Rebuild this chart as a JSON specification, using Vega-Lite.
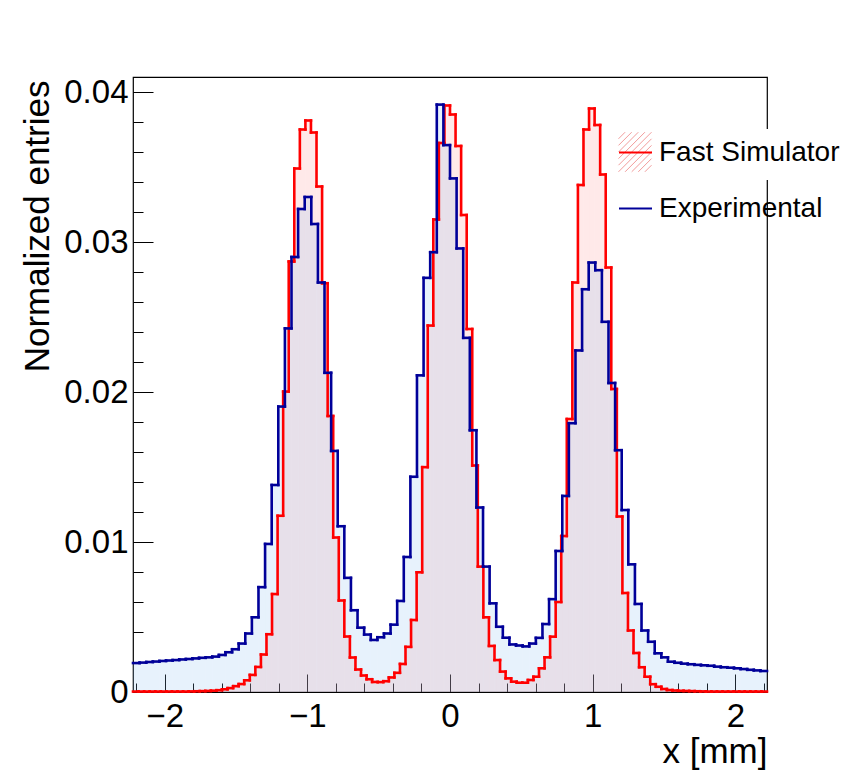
{
  "$schema": "https://vega.github.io/schema/vega-lite/v6.json",
  "width": 634,
  "height": 615,
  "autosize": {"type": "none"},
  "padding": {"left": 133, "top": 77, "right": 86, "bottom": 79},
  "background": "white",
  "datasets": {
    "sim": [
      {"x0": -2.222, "x1": -2.183, "v": 0.00003},
      {"x0": -2.183, "x1": -2.144, "v": 0.00003},
      {"x0": -2.144, "x1": -2.1051, "v": 0.00003},
      {"x0": -2.1051, "x1": -2.0661, "v": 0.00003},
      {"x0": -2.0661, "x1": -2.0271, "v": 0.00003},
      {"x0": -2.0271, "x1": -1.9881, "v": 0.00003},
      {"x0": -1.9881, "x1": -1.9491, "v": 0.00003},
      {"x0": -1.9491, "x1": -1.9101, "v": 0.00003},
      {"x0": -1.9101, "x1": -1.8712, "v": 0.00003},
      {"x0": -1.8712, "x1": -1.8322, "v": 0.00003},
      {"x0": -1.8322, "x1": -1.7932, "v": 0.00004},
      {"x0": -1.7932, "x1": -1.7542, "v": 0.00005},
      {"x0": -1.7542, "x1": -1.7152, "v": 0.00006},
      {"x0": -1.7152, "x1": -1.6763, "v": 0.00007},
      {"x0": -1.6763, "x1": -1.6373, "v": 0.00009},
      {"x0": -1.6373, "x1": -1.5983, "v": 0.00012},
      {"x0": -1.5983, "x1": -1.5593, "v": 0.00018},
      {"x0": -1.5593, "x1": -1.5203, "v": 0.00026},
      {"x0": -1.5203, "x1": -1.4813, "v": 0.00039},
      {"x0": -1.4813, "x1": -1.4424, "v": 0.00053},
      {"x0": -1.4424, "x1": -1.4034, "v": 0.00078},
      {"x0": -1.4034, "x1": -1.3644, "v": 0.00114},
      {"x0": -1.3644, "x1": -1.3254, "v": 0.00167},
      {"x0": -1.3254, "x1": -1.2864, "v": 0.0025},
      {"x0": -1.2864, "x1": -1.2475, "v": 0.00385},
      {"x0": -1.2475, "x1": -1.2085, "v": 0.00653},
      {"x0": -1.2085, "x1": -1.1695, "v": 0.01175},
      {"x0": -1.1695, "x1": -1.1305, "v": 0.02003},
      {"x0": -1.1305, "x1": -1.0915, "v": 0.0287},
      {"x0": -1.0915, "x1": -1.0525, "v": 0.0349},
      {"x0": -1.0525, "x1": -1.0136, "v": 0.0375},
      {"x0": -1.0136, "x1": -0.9746, "v": 0.0381},
      {"x0": -0.9746, "x1": -0.9356, "v": 0.0373},
      {"x0": -0.9356, "x1": -0.8966, "v": 0.0337},
      {"x0": -0.8966, "x1": -0.8576, "v": 0.02725},
      {"x0": -0.8576, "x1": -0.8186, "v": 0.0184},
      {"x0": -0.8186, "x1": -0.7797, "v": 0.0103},
      {"x0": -0.7797, "x1": -0.7407, "v": 0.0061},
      {"x0": -0.7407, "x1": -0.7017, "v": 0.0037},
      {"x0": -0.7017, "x1": -0.6627, "v": 0.0023},
      {"x0": -0.6627, "x1": -0.6237, "v": 0.0015},
      {"x0": -0.6237, "x1": -0.5848, "v": 0.0011},
      {"x0": -0.5848, "x1": -0.5458, "v": 0.00085},
      {"x0": -0.5458, "x1": -0.5068, "v": 0.00067},
      {"x0": -0.5068, "x1": -0.4678, "v": 0.00066},
      {"x0": -0.4678, "x1": -0.4288, "v": 0.00072},
      {"x0": -0.4288, "x1": -0.3898, "v": 0.00097},
      {"x0": -0.3898, "x1": -0.3509, "v": 0.00128},
      {"x0": -0.3509, "x1": -0.3119, "v": 0.00187},
      {"x0": -0.3119, "x1": -0.2729, "v": 0.00301},
      {"x0": -0.2729, "x1": -0.2339, "v": 0.0048},
      {"x0": -0.2339, "x1": -0.1949, "v": 0.00798},
      {"x0": -0.1949, "x1": -0.156, "v": 0.01499},
      {"x0": -0.156, "x1": -0.117, "v": 0.02443},
      {"x0": -0.117, "x1": -0.078, "v": 0.0315},
      {"x0": -0.078, "x1": -0.039, "v": 0.0366},
      {"x0": -0.039, "x1": 0, "v": 0.0391},
      {"x0": 0, "x1": 0.039, "v": 0.0385},
      {"x0": 0.039, "x1": 0.078, "v": 0.0364},
      {"x0": 0.078, "x1": 0.117, "v": 0.0318},
      {"x0": 0.117, "x1": 0.156, "v": 0.0242},
      {"x0": 0.156, "x1": 0.1949, "v": 0.0151},
      {"x0": 0.1949, "x1": 0.2339, "v": 0.00836},
      {"x0": 0.2339, "x1": 0.2729, "v": 0.00498},
      {"x0": 0.2729, "x1": 0.3119, "v": 0.00307},
      {"x0": 0.3119, "x1": 0.3509, "v": 0.00213},
      {"x0": 0.3509, "x1": 0.3898, "v": 0.00136},
      {"x0": 0.3898, "x1": 0.4288, "v": 0.00091},
      {"x0": 0.4288, "x1": 0.4678, "v": 0.00069},
      {"x0": 0.4678, "x1": 0.5068, "v": 0.00062},
      {"x0": 0.5068, "x1": 0.5458, "v": 0.00062},
      {"x0": 0.5458, "x1": 0.5848, "v": 0.0008},
      {"x0": 0.5848, "x1": 0.6237, "v": 0.00102},
      {"x0": 0.6237, "x1": 0.6627, "v": 0.00158},
      {"x0": 0.6627, "x1": 0.7017, "v": 0.00231},
      {"x0": 0.7017, "x1": 0.7407, "v": 0.00369},
      {"x0": 0.7407, "x1": 0.7797, "v": 0.006},
      {"x0": 0.7797, "x1": 0.8186, "v": 0.0104},
      {"x0": 0.8186, "x1": 0.8576, "v": 0.0182},
      {"x0": 0.8576, "x1": 0.8966, "v": 0.0273},
      {"x0": 0.8966, "x1": 0.9356, "v": 0.0338},
      {"x0": 0.9356, "x1": 0.9746, "v": 0.0375},
      {"x0": 0.9746, "x1": 1.0136, "v": 0.0389},
      {"x0": 1.0136, "x1": 1.0525, "v": 0.0378},
      {"x0": 1.0525, "x1": 1.0915, "v": 0.0345},
      {"x0": 1.0915, "x1": 1.1305, "v": 0.0283},
      {"x0": 1.1305, "x1": 1.1695, "v": 0.0202},
      {"x0": 1.1695, "x1": 1.2085, "v": 0.0117},
      {"x0": 1.2085, "x1": 1.2475, "v": 0.0066},
      {"x0": 1.2475, "x1": 1.2864, "v": 0.0041},
      {"x0": 1.2864, "x1": 1.3254, "v": 0.0026},
      {"x0": 1.3254, "x1": 1.3644, "v": 0.00165},
      {"x0": 1.3644, "x1": 1.4034, "v": 0.00102},
      {"x0": 1.4034, "x1": 1.4424, "v": 0.00052},
      {"x0": 1.4424, "x1": 1.4813, "v": 0.00035},
      {"x0": 1.4813, "x1": 1.5203, "v": 0.0002},
      {"x0": 1.5203, "x1": 1.5593, "v": 0.00013},
      {"x0": 1.5593, "x1": 1.5983, "v": 0.0001},
      {"x0": 1.5983, "x1": 1.6373, "v": 0.00008},
      {"x0": 1.6373, "x1": 1.6763, "v": 0.00007},
      {"x0": 1.6763, "x1": 1.7152, "v": 0.00006},
      {"x0": 1.7152, "x1": 1.7542, "v": 0.00005},
      {"x0": 1.7542, "x1": 1.7932, "v": 0.00004},
      {"x0": 1.7932, "x1": 1.8322, "v": 0.00003},
      {"x0": 1.8322, "x1": 1.8712, "v": 0.00003},
      {"x0": 1.8712, "x1": 1.9101, "v": 0.00003},
      {"x0": 1.9101, "x1": 1.9491, "v": 0.00003},
      {"x0": 1.9491, "x1": 1.9881, "v": 0.00003},
      {"x0": 1.9881, "x1": 2.0271, "v": 0.00003},
      {"x0": 2.0271, "x1": 2.0661, "v": 0.00003},
      {"x0": 2.0661, "x1": 2.1051, "v": 0.00003},
      {"x0": 2.1051, "x1": 2.144, "v": 0.00003},
      {"x0": 2.144, "x1": 2.183, "v": 0.00003},
      {"x0": 2.183, "x1": 2.222, "v": 0.00003}
    ],
    "exp": [
      {"x0": -2.222, "x1": -2.1757, "v": 0.00193},
      {"x0": -2.1757, "x1": -2.1294, "v": 0.00196},
      {"x0": -2.1294, "x1": -2.0831, "v": 0.002},
      {"x0": -2.0831, "x1": -2.0368, "v": 0.00203},
      {"x0": -2.0368, "x1": -1.9905, "v": 0.00207},
      {"x0": -1.9905, "x1": -1.9442, "v": 0.0021},
      {"x0": -1.9442, "x1": -1.898, "v": 0.00213},
      {"x0": -1.898, "x1": -1.8517, "v": 0.00217},
      {"x0": -1.8517, "x1": -1.8054, "v": 0.0022},
      {"x0": -1.8054, "x1": -1.7591, "v": 0.00224},
      {"x0": -1.7591, "x1": -1.7128, "v": 0.00228},
      {"x0": -1.7128, "x1": -1.6665, "v": 0.00231},
      {"x0": -1.6665, "x1": -1.6202, "v": 0.00236},
      {"x0": -1.6202, "x1": -1.5739, "v": 0.00247},
      {"x0": -1.5739, "x1": -1.5276, "v": 0.00265},
      {"x0": -1.5276, "x1": -1.4813, "v": 0.00285},
      {"x0": -1.4813, "x1": -1.435, "v": 0.00323},
      {"x0": -1.435, "x1": -1.3887, "v": 0.0039},
      {"x0": -1.3887, "x1": -1.3425, "v": 0.00498},
      {"x0": -1.3425, "x1": -1.2962, "v": 0.00699},
      {"x0": -1.2962, "x1": -1.2499, "v": 0.00987},
      {"x0": -1.2499, "x1": -1.2036, "v": 0.0138},
      {"x0": -1.2036, "x1": -1.1573, "v": 0.01903},
      {"x0": -1.1573, "x1": -1.111, "v": 0.02424},
      {"x0": -1.111, "x1": -1.0647, "v": 0.029},
      {"x0": -1.0647, "x1": -1.0184, "v": 0.0322},
      {"x0": -1.0184, "x1": -0.9721, "v": 0.033},
      {"x0": -0.9721, "x1": -0.9258, "v": 0.0312},
      {"x0": -0.9258, "x1": -0.8795, "v": 0.0273},
      {"x0": -0.8795, "x1": -0.8332, "v": 0.02128},
      {"x0": -0.8332, "x1": -0.787, "v": 0.01607},
      {"x0": -0.787, "x1": -0.7407, "v": 0.01105},
      {"x0": -0.7407, "x1": -0.6944, "v": 0.00761},
      {"x0": -0.6944, "x1": -0.6481, "v": 0.00545},
      {"x0": -0.6481, "x1": -0.6018, "v": 0.00429},
      {"x0": -0.6018, "x1": -0.5555, "v": 0.00383},
      {"x0": -0.5555, "x1": -0.5092, "v": 0.00347},
      {"x0": -0.5092, "x1": -0.4629, "v": 0.00365},
      {"x0": -0.4629, "x1": -0.4166, "v": 0.0039},
      {"x0": -0.4166, "x1": -0.3703, "v": 0.00449},
      {"x0": -0.3703, "x1": -0.324, "v": 0.00607},
      {"x0": -0.324, "x1": -0.2777, "v": 0.009},
      {"x0": -0.2777, "x1": -0.2315, "v": 0.01435},
      {"x0": -0.2315, "x1": -0.1852, "v": 0.02111},
      {"x0": -0.1852, "x1": -0.1389, "v": 0.02761},
      {"x0": -0.1389, "x1": -0.0926, "v": 0.02932},
      {"x0": -0.0926, "x1": -0.0463, "v": 0.03916},
      {"x0": -0.0463, "x1": 0, "v": 0.03646},
      {"x0": 0, "x1": 0.0463, "v": 0.03424},
      {"x0": 0.0463, "x1": 0.0926, "v": 0.02957},
      {"x0": 0.0926, "x1": 0.1389, "v": 0.02361},
      {"x0": 0.1389, "x1": 0.1852, "v": 0.01745},
      {"x0": 0.1852, "x1": 0.2315, "v": 0.0123},
      {"x0": 0.2315, "x1": 0.2777, "v": 0.00836},
      {"x0": 0.2777, "x1": 0.324, "v": 0.00591},
      {"x0": 0.324, "x1": 0.3703, "v": 0.00435},
      {"x0": 0.3703, "x1": 0.4166, "v": 0.00362},
      {"x0": 0.4166, "x1": 0.4629, "v": 0.00317},
      {"x0": 0.4629, "x1": 0.5092, "v": 0.0031},
      {"x0": 0.5092, "x1": 0.5555, "v": 0.00304},
      {"x0": 0.5555, "x1": 0.6018, "v": 0.00323},
      {"x0": 0.6018, "x1": 0.6481, "v": 0.00361},
      {"x0": 0.6481, "x1": 0.6944, "v": 0.00453},
      {"x0": 0.6944, "x1": 0.7407, "v": 0.00619},
      {"x0": 0.7407, "x1": 0.787, "v": 0.0094},
      {"x0": 0.787, "x1": 0.8332, "v": 0.01307},
      {"x0": 0.8332, "x1": 0.8795, "v": 0.01792},
      {"x0": 0.8795, "x1": 0.9258, "v": 0.02277},
      {"x0": 0.9258, "x1": 0.9721, "v": 0.02685},
      {"x0": 0.9721, "x1": 1.0184, "v": 0.02863},
      {"x0": 1.0184, "x1": 1.0647, "v": 0.02812},
      {"x0": 1.0647, "x1": 1.111, "v": 0.02468},
      {"x0": 1.111, "x1": 1.1573, "v": 0.0206},
      {"x0": 1.1573, "x1": 1.2036, "v": 0.01612},
      {"x0": 1.2036, "x1": 1.2499, "v": 0.01213},
      {"x0": 1.2499, "x1": 1.2962, "v": 0.00851},
      {"x0": 1.2962, "x1": 1.3425, "v": 0.00587},
      {"x0": 1.3425, "x1": 1.3887, "v": 0.0041},
      {"x0": 1.3887, "x1": 1.435, "v": 0.00335},
      {"x0": 1.435, "x1": 1.4813, "v": 0.00258},
      {"x0": 1.4813, "x1": 1.5276, "v": 0.00231},
      {"x0": 1.5276, "x1": 1.5739, "v": 0.00202},
      {"x0": 1.5739, "x1": 1.6202, "v": 0.00195},
      {"x0": 1.6202, "x1": 1.6665, "v": 0.00189},
      {"x0": 1.6665, "x1": 1.7128, "v": 0.00185},
      {"x0": 1.7128, "x1": 1.7591, "v": 0.00181},
      {"x0": 1.7591, "x1": 1.8054, "v": 0.00178},
      {"x0": 1.8054, "x1": 1.8517, "v": 0.00175},
      {"x0": 1.8517, "x1": 1.898, "v": 0.00169},
      {"x0": 1.898, "x1": 1.9442, "v": 0.00165},
      {"x0": 1.9442, "x1": 1.9905, "v": 0.00162},
      {"x0": 1.9905, "x1": 2.0368, "v": 0.00158},
      {"x0": 2.0368, "x1": 2.0831, "v": 0.00153},
      {"x0": 2.0831, "x1": 2.1294, "v": 0.00148},
      {"x0": 2.1294, "x1": 2.1757, "v": 0.00144},
      {"x0": 2.1757, "x1": 2.222, "v": 0.0014}
    ]
  },
  "layer": [
    {
      "data": {"name": "sim"},
      "mark": {"type": "rect", "fillOpacity": 0.2, "strokeWidth": 0},
      "encoding": {
        "x": {
          "field": "x0", "type": "quantitative",
          "scale": {"domain": [-2.222, 2.222], "nice": false},
          "axis": {"orient": "bottom", "values": [-2.2, -2, -1.8, -1.6, -1.4, -1.2, -1, -0.8, -0.6, -0.4, -0.2, 0, 0.2, 0.4, 0.6, 0.8, 1, 1.2, 1.4, 1.6, 1.8, 2, 2.2], "tickSize": -9, "labels": false, "domain": false, "title": null}
        },
        "x2": {"field": "x1"},
        "y": {
          "field": "v", "type": "quantitative",
          "scale": {"domain": [0, 0.041], "nice": false},
          "axis": {"orient": "left", "values": [0, 0.002, 0.004, 0.006, 0.008, 0.01, 0.012, 0.014, 0.016, 0.018, 0.02, 0.022, 0.024, 0.026, 0.028, 0.03, 0.032, 0.034, 0.036, 0.038, 0.04], "tickSize": -10, "labels": false, "domain": false, "title": null}
        },
        "y2": {"datum": 0},
        "fill": {
          "datum": "Fast Simulator", "type": "nominal",
          "scale": {"domain": ["Fast Simulator"], "range": ["#ff8f8f"]},
          "legend": {
            "orient": "none", "legendX": 479, "legendY": 52, "direction": "vertical", "title": null,
            "fillColor": "white", "padding": 6, "rowPadding": 24, "symbolSize": 1089,
            "symbolType": "M-1,-0.8L-0.6,-1.2M-1,-0.4L-0.2,-1.2M-1,0L0.2,-1.2M-1,0.4L0.6,-1.2M-1,0.8L1,-1.2M-1,1.2L1,-0.8M-0.6,1.2L1,-0.4M-0.2,1.2L1,0M0.2,1.2L1,0.4M0.6,1.2L1,0.8",
            "symbolStrokeWidth": 1, "symbolStrokeColor": "#f29c9c", "symbolFillColor": "transparent",
            "labelOffset": 6, "labelFontSize": 28, "labelFont": "Liberation Sans", "labelLimit": 400, "labelOpacity": 0,
            "zindex": 0,
            "encode": {"symbols": {"update": {
              "fill": {"value": "transparent"},
              "stroke": {"value": "#f29c9c"}
            }}}
          }
        }
      }
    },
    {
      "data": {"name": "exp"},
      "mark": {"type": "rect", "fill": "#86bdf0", "fillOpacity": 0.2, "strokeWidth": 0},
      "encoding": {
        "x": {"field": "x0", "type": "quantitative", "scale": {"domain": [-2.222, 2.222], "nice": false}, "axis": null},
        "x2": {"field": "x1"},
        "y": {"field": "v", "type": "quantitative", "scale": {"domain": [0, 0.041], "nice": false}, "axis": null},
        "y2": {"datum": 0}
      }
    },
    {
      "data": {"name": "sim"},
      "mark": {"type": "rule", "strokeWidth": 2.6, "strokeCap": "square"},
      "encoding": {
        "x": {
          "field": "x0", "type": "quantitative",
          "scale": {"domain": [-2.222, 2.222], "nice": false},
          "axis": {"orient": "bottom", "values": [-2, -1, 0, 1, 2], "format": "d", "tickSize": -18, "domain": false, "labelFontSize": 33, "labelPadding": 26,
            "title": "x [mm]", "titleFontSize": 35, "titleX": 634, "titleY": 70, "titleAlign": "right", "titleBaseline": "alphabetic", "titleAnchor": "end"}
        },
        "x2": {"field": "x1"},
        "y": {
          "field": "v", "type": "quantitative",
          "scale": {"domain": [0, 0.041], "nice": false},
          "axis": {"orient": "left", "values": [0, 0.01, 0.02, 0.03, 0.04], "format": ".2~f", "tickSize": -20, "domain": false, "labelFontSize": 33, "labelPadding": 25,
            "title": "Normalized entries", "titleFontSize": 35, "titleAngle": 270, "titleX": -84.7, "titleY": 3, "titleAlign": "right", "titleBaseline": "alphabetic"}
        },
        "stroke": {
          "datum": "Fast Simulator", "type": "nominal",
          "scale": {"domain": ["Fast Simulator", "Experimental"], "range": ["#ff0000", "#000099"]},
          "legend": {
            "orient": "none", "legendX": 479, "legendY": 52, "direction": "vertical", "title": null,
            "padding": 6, "rowPadding": 24, "symbolSize": 1089, "symbolType": "stroke", "symbolStrokeWidth": 2,
            "labelOffset": 6, "labelFontSize": 28, "labelFont": "Liberation Sans", "labelLimit": 400, "labelColor": "black",
            "zindex": 1
          }
        }
      }
    },
    {
      "data": {"name": "sim"},
      "transform": [
        {"window": [{"op": "lag", "field": "v", "as": "pv"}], "sort": [{"field": "x0", "order": "ascending"}]},
        {"filter": "datum.pv != null"}
      ],
      "mark": {"type": "rule", "strokeWidth": 2.6, "strokeCap": "square"},
      "encoding": {
        "x": {"field": "x0", "type": "quantitative", "scale": {"domain": [-2.222, 2.222], "nice": false}, "axis": null},
        "y": {"field": "v", "type": "quantitative", "scale": {"domain": [0, 0.041], "nice": false}, "axis": null},
        "y2": {"field": "pv"},
        "stroke": {"datum": "Fast Simulator", "type": "nominal", "legend": null}
      }
    },
    {
      "data": {"name": "exp"},
      "mark": {"type": "rule", "strokeWidth": 2.6, "strokeCap": "square"},
      "encoding": {
        "x": {"field": "x0", "type": "quantitative", "scale": {"domain": [-2.222, 2.222], "nice": false}, "axis": null},
        "x2": {"field": "x1"},
        "y": {"field": "v", "type": "quantitative", "scale": {"domain": [0, 0.041], "nice": false}, "axis": null},
        "stroke": {"datum": "Experimental", "type": "nominal", "legend": null}
      }
    },
    {
      "data": {"name": "exp"},
      "transform": [
        {"window": [{"op": "lag", "field": "v", "as": "pv"}], "sort": [{"field": "x0", "order": "ascending"}]},
        {"filter": "datum.pv != null"}
      ],
      "mark": {"type": "rule", "strokeWidth": 2.6, "strokeCap": "square"},
      "encoding": {
        "x": {"field": "x0", "type": "quantitative", "scale": {"domain": [-2.222, 2.222], "nice": false}, "axis": null},
        "y": {"field": "v", "type": "quantitative", "scale": {"domain": [0, 0.041], "nice": false}, "axis": null},
        "y2": {"field": "pv"},
        "stroke": {"datum": "Experimental", "type": "nominal", "legend": null}
      }
    }
  ],
  "resolve": {"axis": {"x": "independent", "y": "independent"}},
  "config": {
    "view": {"stroke": "black", "strokeWidth": 1.2},
    "font": "Liberation Sans",
    "axis": {"grid": false, "tickColor": "black", "tickWidth": 1, "labelColor": "black", "titleColor": "black", "titleFontWeight": "normal", "labelFont": "Liberation Sans", "titleFont": "Liberation Sans"},
    "legend": {"labelFont": "Liberation Sans"}
  }
}
